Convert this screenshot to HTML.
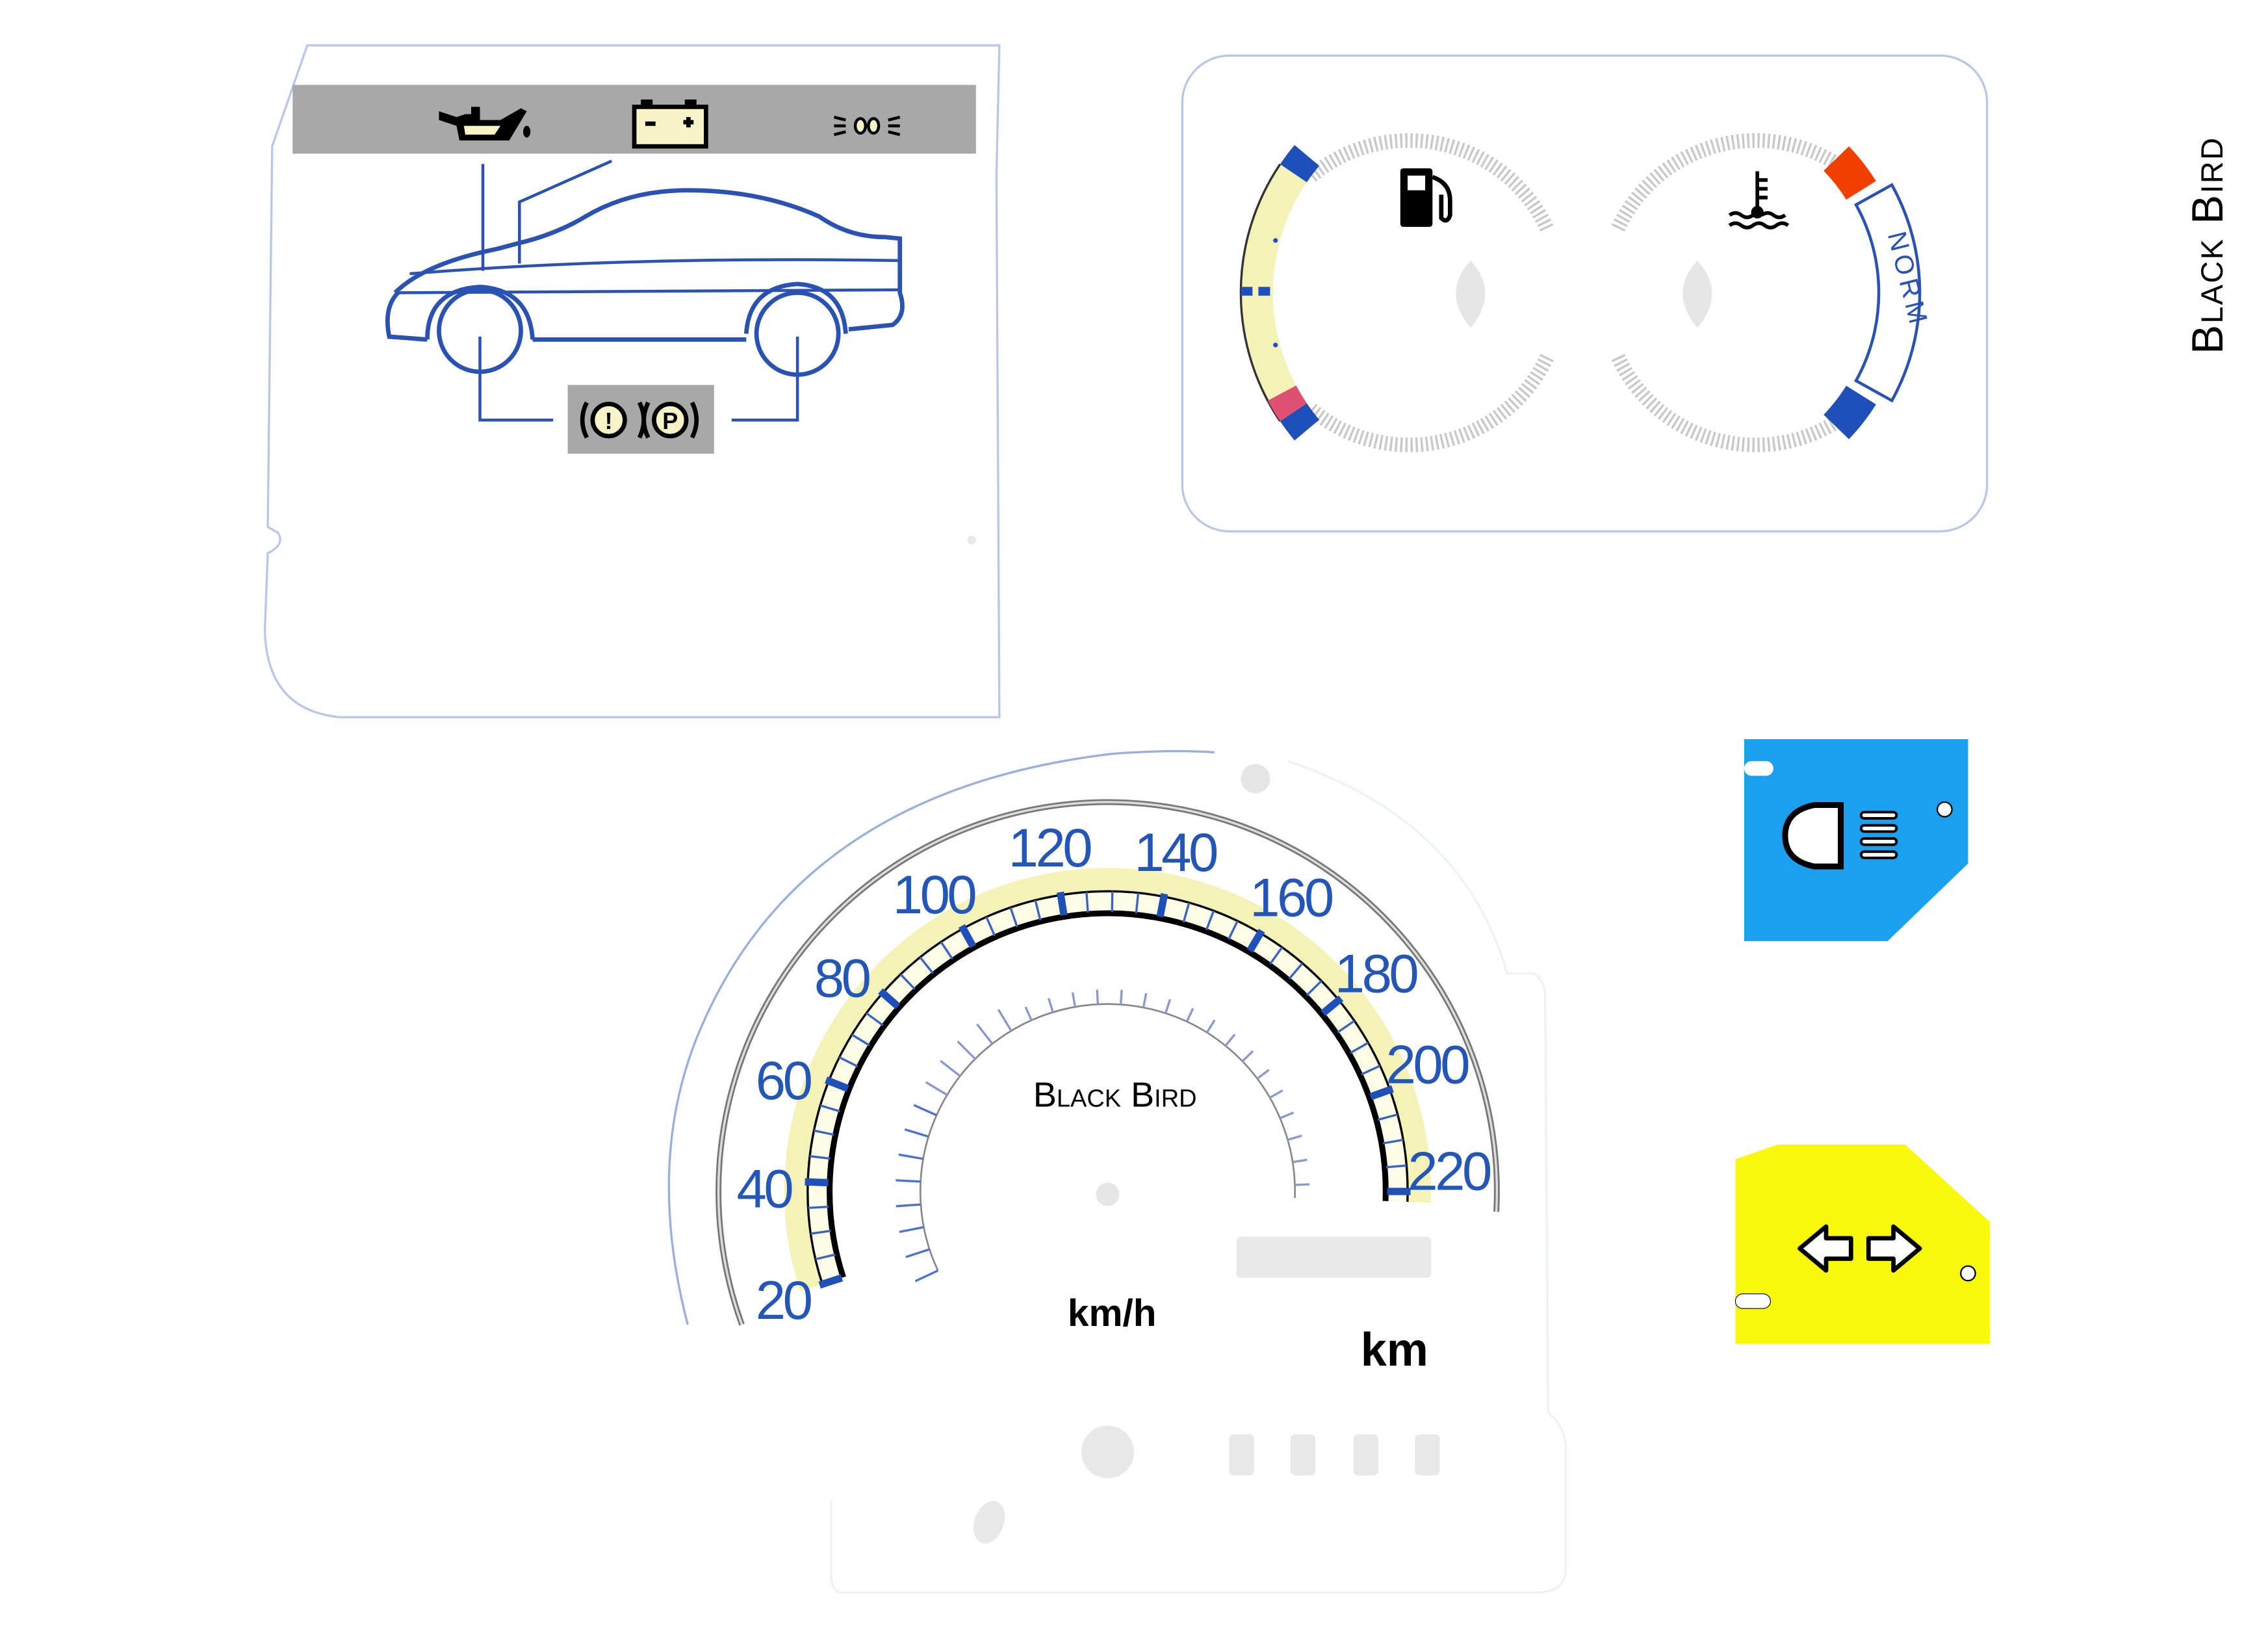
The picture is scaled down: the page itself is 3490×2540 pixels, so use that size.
<!DOCTYPE html>
<html><head><meta charset="utf-8"><style>
html,body{margin:0;padding:0;background:#fff}
svg{display:block}
</style></head><body>
<svg id="s" xmlns="http://www.w3.org/2000/svg" width="3490" height="2540" viewBox="0 0 1550 1128" preserveAspectRatio="none">
<rect width="1550" height="1128" fill="#fff"/>
<!-- Panel 1 -->
<path d="M210,31 L683,31 L681,120 L683,490 L232,490 Q182,485 181,430 L183,378 Q195,372 190,364 L183,360 L186,100 Z" fill="#fff" stroke="#b8c8e6" stroke-width="1.5"/>
<rect x="200" y="58" width="467" height="47" fill="#a8a8a8"/>
<g transform="translate(298,70)">
<path d="M2,6 L14,10 L20,8 L30,8 L30,12 L44,12 L58,4 L62,6 L50,26 L16,26 L14,16 L2,12 Z" fill="#000"/>
<path d="M19,16 L44,16 L40,22 L20,22 Z" fill="#f7f3c6"/>
<rect x="24" y="3" width="6" height="6" fill="#000"/>
<ellipse cx="62" cy="20" rx="2.5" ry="4" fill="#000"/>
</g>
<g transform="translate(432,68)">
<rect x="6" y="0" width="8" height="5" fill="#000"/><rect x="36" y="0" width="8" height="5" fill="#000"/>
<rect x="1.5" y="5" width="49" height="27" fill="#f7f3c6" stroke="#000" stroke-width="3"/>
<rect x="9" y="15" width="7" height="3" fill="#000"/>
<rect x="35" y="14" width="7" height="3" fill="#000"/><rect x="37" y="12" width="3" height="7" fill="#000"/>
</g>
<g transform="translate(570,76)" stroke="#000" stroke-width="2" fill="#f7f3c6">
<ellipse cx="18" cy="10" rx="3.5" ry="5"/><ellipse cx="27" cy="10" rx="3.5" ry="5"/>
<path d="M0,4 L8,6 M0,10 L8,10 M0,16 L8,14 M45,4 L37,6 M45,10 L37,10 M45,16 L37,14" fill="none"/>
</g>
<g fill="none" stroke="#2a52b2" stroke-width="3">
<path d="M330,112 L330,185" stroke-width="2"/>
<path d="M418,110 L355,138 L355,180" stroke-width="2"/>
<path d="M270,200 Q290,180 340,170 L355,166 Q380,160 400,148 Q430,130 470,130 Q520,130 560,148 Q580,162 605,162 L615,163 L615,200 Q620,215 610,222 L580,225"/>
<path d="M272,200 Q262,210 266,230 L292,232"/>
<path d="M292,232 Q292,198 328,196 Q362,198 364,232"/>
<path d="M510,228 Q512,196 545,194 Q576,196 578,228"/>
<path d="M364,232 L510,232"/>
<path d="M272,200 L615,198" stroke-width="2"/>
<path d="M280,187 Q430,175 615,178" stroke-width="2"/>
<circle cx="328" cy="226" r="28"/>
<circle cx="545" cy="228" r="28"/>
<path d="M328,230 L328,287 L378,287 M545,230 L545,287 L500,287" stroke-width="2"/>
</g>
<rect x="388" y="263" width="100" height="47" fill="#a8a8a8"/>
<g transform="translate(438,287)">
<circle cx="-22" cy="0" r="11" fill="#f7f3c6" stroke="#000" stroke-width="3"/>
<circle cx="20" cy="0" r="11" fill="#f7f3c6" stroke="#000" stroke-width="3"/>
<text x="-22" y="6" font-family="Liberation Sans,sans-serif" font-weight="bold" font-size="16" text-anchor="middle">!</text>
<text x="20" y="6" font-family="Liberation Sans,sans-serif" font-weight="bold" font-size="16" text-anchor="middle">P</text>
<path d="M-37,-12 Q-43,0 -37,12 M-1,-12 Q5,0 -1,12 M5,-12 Q-1,0 5,12 M35,-12 Q41,0 35,12" fill="none" stroke="#000" stroke-width="3"/>
</g>
<circle cx="664" cy="369" r="3" fill="#e8e8e8"/>

<!-- Panel 2 -->
<rect x="808" y="38" width="550" height="325" rx="32" fill="#fff" stroke="#b8c8e6" stroke-width="1.5"/>
<g id="fuel"></g>
<path d="M1005,178 Q1025,200 1005,224 Q985,200 1005,178Z" fill="#e6e6e6"/>
<path d="M1160,178 Q1180,200 1160,224 Q1140,200 1160,178Z" fill="#e6e6e6"/>
<g transform="translate(957,113)">
<rect x="0" y="2" width="22" height="40" rx="2" fill="#000"/>
<rect x="5" y="7" width="12" height="10" fill="#fff"/>
<path d="M22,8 Q34,12 34,24 L34,34 Q32,40 28,36 L28,20" fill="none" stroke="#000" stroke-width="3"/>
</g>
<g transform="translate(1180,115)" stroke="#000" fill="none" stroke-width="2.5">
<path d="M21,2 L21,30"/><path d="M21,8 L28,8 M21,14 L28,14 M21,20 L28,20"/>
<circle cx="21" cy="30" r="3" fill="#000"/>
<path d="M2,32 q4,-3 8,0 t8,0 M24,32 q4,-3 8,0 t8,0 M2,39 q4,-3 8,0 t8,0 t8,0 t8,0 t8,0"/>
</g>
<text x="0" y="0" transform="translate(1290,160) rotate(76)" font-family="Liberation Sans,sans-serif" font-size="18" fill="#2a52b2" letter-spacing="3">NORM</text>

<text transform="translate(1519,242) rotate(-90)" font-family="'Liberation Sans',sans-serif" font-size="30" font-variant="small-caps" fill="#000" letter-spacing="1">Black Bird</text>

<!-- speedometer panel -->
<path d="M470,905 Q440,790 480,700 Q550,540 760,515 Q800,512 830,514" fill="none" stroke="#9ab0dc" stroke-width="1.5"/>
<path d="M880,520 Q1000,560 1030,665 L1048,665 Q1056,670 1056,680 L1058,965 Q1070,975 1070,990 L1070,1075 Q1068,1088 1050,1088 L575,1088 Q568,1088 568,1075 L568,1025" fill="none" stroke="#eef2f8" stroke-width="1.5"/>
<g id="speedo"></g>
<circle cx="858" cy="532" r="10" fill="#e6e6e6"/>
<circle cx="757" cy="816" r="8" fill="#e6e6e6"/>
<rect x="845" y="845" width="133" height="28" rx="3" fill="#e8e8e8"/>
<circle cx="757" cy="992" r="18" fill="#e8e8e8"/>
<rect x="840" y="980" width="17" height="28" rx="3" fill="#e8e8e8"/>
<rect x="882" y="980" width="17" height="28" rx="3" fill="#e8e8e8"/>
<rect x="925" y="980" width="17" height="28" rx="3" fill="#e8e8e8"/>
<rect x="967" y="980" width="17" height="28" rx="3" fill="#e8e8e8"/>
<ellipse cx="676" cy="1040" rx="10" ry="15" transform="rotate(20 676 1040)" fill="#e8e8e8"/>
<text x="760" y="906" font-family="Liberation Sans,sans-serif" font-weight="bold" font-size="26" text-anchor="middle">km/h</text>
<text x="953" y="933" font-family="Liberation Sans,sans-serif" font-weight="bold" font-size="32" text-anchor="middle">km</text>
<text x="762" y="756" font-family="Liberation Sans,sans-serif" font-size="24" font-variant="small-caps" text-anchor="middle">Black Bird</text>

<!-- blue tile -->
<path d="M1192,505 L1345,505 L1345,590 L1290,643 L1192,643Z" fill="#1aa0ee"/>
<rect x="1192" y="520" width="20" height="10" rx="5" fill="#fff"/>
<circle cx="1329" cy="553" r="5" fill="#fff" stroke="#000" stroke-width="1"/>
<path d="M1258,550 L1258,592 L1240,592 Q1220,588 1220,571 Q1220,554 1240,550Z" fill="#fff" stroke="#000" stroke-width="4"/>
<g stroke="#000" stroke-width="6" stroke-linecap="round"><path d="M1274,557 L1294,557 M1274,566 L1294,566 M1274,575 L1294,575 M1274,584 L1294,584"/></g>
<g stroke="#fff" stroke-width="2.5" stroke-linecap="round"><path d="M1274,557 L1294,557 M1274,566 L1294,566 M1274,575 L1294,575 M1274,584 L1294,584"/></g>
<!-- yellow tile -->
<path d="M1186,792 L1215,782 L1302,782 L1360,835 L1360,918 L1186,918Z" fill="#f8f80a"/>
<rect x="1186" y="884" width="24" height="10" rx="5" fill="#fff" stroke="#000" stroke-width="0.5"/>
<circle cx="1345" cy="870" r="5" fill="#fff" stroke="#000" stroke-width="1"/>
<path d="M1230,853 L1248,838 L1248,846 L1265,846 L1265,860 L1248,860 L1248,868Z" fill="#fff" stroke="#000" stroke-width="3" stroke-linejoin="round"/>
<path d="M1312,853 L1294,838 L1294,846 L1277,846 L1277,860 L1294,860 L1294,868Z" fill="#fff" stroke="#000" stroke-width="3" stroke-linejoin="round"/>
</svg>
<script>
var NS="http://www.w3.org/2000/svg";
function el(p,t,a){var e=document.createElementNS(NS,t);for(var k in a)e.setAttribute(k,a[k]);p.appendChild(e);return e;}
function pt(cx,cy,r,a){a=a*Math.PI/180;return [cx+r*Math.cos(a),cy-r*Math.sin(a)];}
function arc(cx,cy,r,a1,a2){var p=pt(cx,cy,r,a1),q=pt(cx,cy,r,a2);var large=Math.abs(a1-a2)>180?1:0;var sw=a1>a2?1:0;return "M"+p[0]+","+p[1]+" A"+r+","+r+" 0 "+large+" "+sw+" "+q[0]+","+q[1];}
var g=document.getElementById("speedo");
var cx=757,cy=814;
function ang(s){return 198-(s-20)*0.99;}
el(g,"path",{"d":arc(cx,cy,266,200,-3),"fill":"none","stroke":"#777","stroke-width":4});
el(g,"path",{"d":arc(cx,cy,266,200,-3),"fill":"none","stroke":"#ddd","stroke-width":1.5});
el(g,"path",{"d":arc(cx,cy,211,ang(20),ang(222)),"fill":"none","stroke":"#f5f2b8","stroke-width":20});
el(g,"path",{"d":arc(cx,cy,198,ang(20),ang(222)),"fill":"none","stroke":"#fdfde6","stroke-width":14});
el(g,"path",{"d":arc(cx,cy,190,ang(20),ang(222)),"fill":"none","stroke":"#000","stroke-width":4});
el(g,"path",{"d":arc(cx,cy,205,ang(20),ang(222)),"fill":"none","stroke":"#000","stroke-width":1.5});
for(var s=20;s<=220;s+=5){var a=ang(s);var maj=s%20==0;var p=pt(cx,cy,191,a),q=pt(cx,cy,maj?207:205,a);
el(g,"line",{"x1":p[0],"y1":p[1],"x2":q[0],"y2":q[1],"stroke":maj?"#1f4fb8":"#3a62c0","stroke-width":maj?5:1.5});}
var lab=[[20,535,888],[40,522,812],[60,535,738],[80,575,668],[100,638,611],[120,717,579],[140,803,582],[160,882,613],[180,940,665],[200,975,727],[220,990,800]];
lab.forEach(function(l){var t=el(g,"text",{"x":l[1],"y":l[2]+13,"font-family":"Liberation Sans,sans-serif","font-size":37,"fill":"#2456b8","text-anchor":"middle","letter-spacing":"-2"});t.textContent=l[0];});
el(g,"path",{"d":arc(cx,cy,128,205,-2),"fill":"none","stroke":"#888","stroke-width":1.2});
for(var a=205;a>=-2;a-=7){var p=pt(cx,cy,128,a),q=pt(cx,cy,a>120?145:138,a);
el(g,"line",{"x1":p[0],"y1":p[1],"x2":q[0],"y2":q[1],"stroke":a>150?"#4a72d0":"#8899cc","stroke-width":1.5});}
var f=document.getElementById("fuel");
el(f,"path",{"d":arc(963,200,104,130,25),"fill":"none","stroke":"#c8c8c8","stroke-width":10,"stroke-dasharray":"1.5 2"});
el(f,"path",{"d":arc(963,200,104,-25,-130),"fill":"none","stroke":"#c8c8c8","stroke-width":10,"stroke-dasharray":"1.5 2"});
el(f,"path",{"d":arc(1005,200,146,146,214),"fill":"none","stroke":"#f5f2b8","stroke-width":22});
el(f,"path",{"d":arc(1005,200,157,146,214),"fill":"none","stroke":"#333","stroke-width":1.5});
el(f,"path",{"d":arc(1005,200,146,146,140),"fill":"none","stroke":"#1f4fb8","stroke-width":22});
el(f,"path",{"d":arc(1005,200,146,214,220),"fill":"none","stroke":"#1f4fb8","stroke-width":22});
el(f,"path",{"d":arc(1005,200,146,208,214),"fill":"none","stroke":"#e05070","stroke-width":22});
[165,195].forEach(function(a){var p=pt(1005,200,138,a);el(f,"circle",{"cx":p[0],"cy":p[1],"r":1.6,"fill":"#1f4fb8"});});
el(f,"rect",{"x":848,"y":196,"width":8,"height":6,"fill":"#1f4fb8"});el(f,"rect",{"x":860,"y":196,"width":8,"height":6,"fill":"#1f4fb8"});
el(f,"path",{"d":arc(1200,200,104,50,155),"fill":"none","stroke":"#c8c8c8","stroke-width":10,"stroke-dasharray":"1.5 2"});
el(f,"path",{"d":arc(1200,200,104,-50,-155),"fill":"none","stroke":"#c8c8c8","stroke-width":10,"stroke-dasharray":"1.5 2"});
el(f,"path",{"d":arc(1160,200,132,44,32),"fill":"none","stroke":"#f04000","stroke-width":24});
el(f,"path",{"d":arc(1160,200,132,-32,-44),"fill":"none","stroke":"#1f4fb8","stroke-width":24});
el(f,"path",{"d":arc(1160,200,124,29,-29)+" L"+pt(1160,200,152,-29).join(",")+" "+arc(1160,200,152,-29,29).replace("M","L")+" Z","fill":"none","stroke":"#2a52b2","stroke-width":2});
</script>
</body></html>
